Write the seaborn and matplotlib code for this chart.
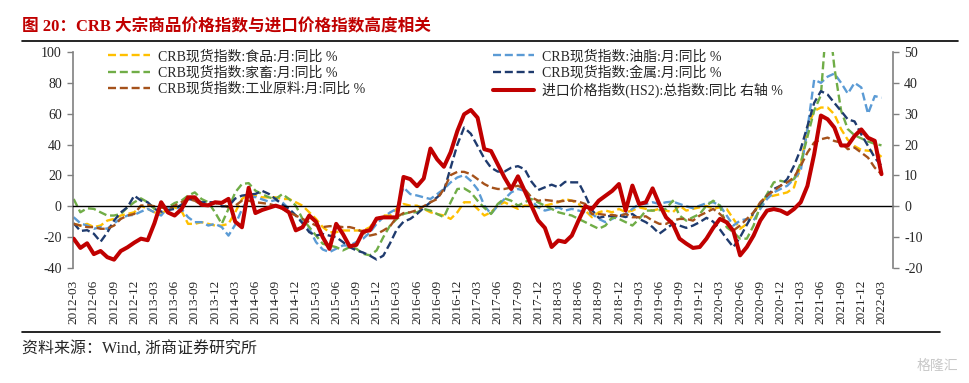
import numpy as np
import pandas as pd
import matplotlib
matplotlib.use("Agg")
import matplotlib.pyplot as plt
from matplotlib.lines import Line2D
import seaborn as sns

# monthly, 2012-03 .. 2022-03
months = pd.period_range("2012-03", "2022-03", freq="M").strftime("%Y-%m").tolist()

# CRB spot sub-indices, YoY % (left axis)
food = [-11.4, -12.5, -11.4, -13.5, -12.5, -9.3, -8.2, -6.0, -5.0, -3.9,
        0.4, -1.7, -3.9, -5.0, -1.7, -0.7, -2.8, -11.4, -11.4, -10.3,
        -11.4, -12.5, -12.5, -11.4, -3.9, 4.7, 8.0, 7.0, 5.8, 5.8,
        5.8, 4.7, 4.7, 2.6, 0.4, -3.9, -8.2, -13.5, -16.8, -16.8,
        -15.7, -15.7, -15.7, -15.7, -13.6, -8.2, -6.0, -6.0, -1.5, 1.5,
        0.4, 0.4, -1.7, -3.9, -5.0, -6.0, -8.2, -3.9, 2.6, 2.6,
        -1.7, -6.0, -3.9, 0.4, 2.6, 0.4, -1.7, 0.4, 0.4, -0.7,
        0.4, 1.5, 2.6, 4.7, 3.6, 1.5, -2.8, -7.1, -3.9, -2.8,
        -3.9, -1.7, -3.9, -2.8, -0.7, -1.7, -2.8, -1.7, -2.8, -3.9,
        0.4, -2.8, -1.7, -0.7, 0.2, -1.7, -0.7, -1.7, -8.2, -14.6,
        -11.4, -5.0, 2.6, 5.8, 6.9, 7.9, 9.0, 12.2, 26.2, 51.0,
        61.7, 64.0, 64.0, 59.6, 50.0, 43.0, 39.0, 36.5, 36.0, 35.5,
        32.0]
oils = [-7.1, -11.0, -12.5, -14.6, -13.5, -14.6, -11.0, -8.0, -6.0, -5.6,
        -3.5, -1.7, -3.9, -6.0, -0.7, -0.7, -1.7, -7.1, -10.3, -10.3,
        -12.5, -11.4, -13.5, -19.0, -12.0, -2.0, 5.8, 6.0, 4.5, 3.0,
        4.0, 2.6, -1.7, -6.0, -10.3, -14.6, -23.2, -28.0, -29.7, -27.5,
        -25.4, -25.4, -23.2, -21.0, -17.0, -11.4, -7.1, -4.0, -1.7, 12.2,
        7.9, 7.0, 5.8, 4.7, 7.9, 11.2, 15.5, 18.7, 20.2, 16.5,
        11.0, 0.4, -5.0, 0.4, 4.7, 9.0, 11.2, 10.0, 3.6, -0.7,
        -2.8, -1.7, -0.7, -2.8, -1.7, -2.8, -3.9, -5.0, -8.2, -10.3,
        -8.2, -6.0, -5.0, -1.7, 1.5, 1.5, 2.6, 1.5, 2.6, 3.0,
        1.5, 0.0, -1.3, 0.4, 2.0, 2.6, 0.5, -6.0, -12.5, -9.3,
        -8.2, -9.3, -1.7, 4.7, 9.0, 11.2, 13.3, 17.6, 23.0, 50.0,
        82.0, 80.0, 84.0, 86.0, 80.0, 73.0, 80.0, 77.0, 60.0, 71.4,
        70.3]
livestock = [4.7, -3.9, -1.3, -1.7, -3.9, -6.0, -6.0, -5.0, -0.7, 2.6,
             5.1, 2.6, -1.7, -0.7, -0.7, 2.1, 3.6, 6.9, 9.0, 4.7,
             2.6, -3.9, -11.4, -1.7, 9.0, 14.4, 15.0, 10.1, 7.9, 5.8,
             4.7, 7.9, 4.7, 0.4, -8.2, -13.5, -19.0, -24.3, -25.4, -26.5,
             -28.6, -26.5, -27.5, -30.8, -31.8, -28.6, -20.0, -12.5, -8.2, -5.0,
             -3.9, -3.9, -1.7, -2.8, -5.0, -7.1, 2.6, 11.2, 11.6, 9.0,
             3.6, -1.0, -5.0, 1.5, 5.1, 3.6, 0.4, 2.6, 4.7, 2.5,
             0.4, -1.7, -3.9, -5.0, -6.0, -8.2, -10.3, -12.5, -14.6, -12.5,
             -7.1, -8.2, -10.3, -12.5, -8.2, -2.8, -2.8, -2.5, -1.7, 3.6,
             -6.0, -9.3, -7.1, -5.0, 0.4, 3.6, 0.4, -13.6, -16.8, -21.0,
             -21.0, -12.5, 0.4, 7.9, 15.5, 16.5, 15.5, 17.6, 28.0, 45.0,
             62.0, 72.0, 130.0, 90.0, 62.0, 50.0, 46.0, 44.0, 42.0, 40.5,
             39.5]
metals = [-11.0, -16.0, -15.5, -17.8, -23.0, -17.0, -9.3, -4.0, -0.6, 6.9,
          3.7, 2.6, -1.7, -3.5, -2.5, -1.7, 1.0, 4.7, 4.0, 2.6,
          2.6, 2.6, 0.0, 0.0, 5.0, 6.9, 7.5, 8.0, 10.0, 8.0,
          4.7, 1.0, -1.7, -6.0, -11.0, -16.8, -19.0, -18.0, -19.0, -20.0,
          -23.2, -26.5, -28.6, -30.0, -32.0, -34.5, -32.0, -24.0, -15.0, -10.0,
          -8.2, -5.0, -1.0, 2.6, 5.8, 10.0, 25.0, 40.0, 51.0, 47.0,
          39.0, 31.0, 25.0, 22.5, 22.5, 25.0, 26.0, 24.0, 16.0, 10.5,
          12.3, 14.0, 12.3, 15.8, 15.5, 15.5, 7.0, -2.5, -7.5, -6.5,
          -6.3, -6.0, -7.0, -5.0, -8.2, -10.3, -13.5, -17.8, -14.6, -11.4,
          -12.5, -14.0, -12.5, -10.3, -7.5, -10.0, -15.0, -21.0, -26.5, -20.0,
          -12.0, -4.0, 1.5, 6.9, 11.2, 13.3, 17.6, 26.2, 37.0, 52.0,
          67.0, 74.6, 72.4, 67.0, 61.7, 56.3, 55.0, 46.6, 39.1, 31.5,
          26.2]
industrial = [-11.4, -12.5, -13.5, -13.5, -14.6, -14.6, -12.5, -8.2, -6.0, -5.0,
              0.4, 0.8, 0.0, -0.7, -1.7, 0.4, 2.6, 4.7, 3.6, 0.8,
              0.8, 2.1, 1.5, -0.7, 0.4, 3.6, 3.6, 2.6, 2.1, 1.5,
              0.4, -1.7, -3.9, -6.0, -8.2, -10.3, -12.5, -13.5, -12.9, -12.9,
              -13.5, -13.5, -14.6, -17.0, -19.0, -18.0, -15.7, -13.0, -7.0, -4.4,
              -3.9, -2.5, 0.0, 2.6, 4.7, 11.2, 20.2, 22.3, 22.3, 20.8,
              17.6, 14.4, 12.2, 11.2, 11.2, 12.2, 13.3, 11.2, 5.8, 3.6,
              4.1, 3.6, 3.0, 3.6, 3.6, 3.0, 1.5, -5.0, -5.0, -5.6,
              -5.6, -6.5, -5.0, -7.1, -7.1, -6.5, -9.3, -11.4, -11.4, -9.3,
              -8.2, -8.2, -9.3, -6.0, -3.9, -1.7, -5.0, -9.3, -15.7, -12.5,
              -8.2, -3.9, 2.6, 6.9, 10.1, 13.3, 15.5, 18.7, 26.2, 34.8,
              41.3, 43.4, 44.5, 42.3, 41.3, 37.0, 38.0, 34.8, 31.5, 25.0,
              20.8]

# import price index (HS2), YoY % (right axis)
import_price = [-10.5, -13.5, -12.0, -15.5, -14.5, -16.5, -17.3, -14.5, -13.3, -11.8,
                -10.5, -11.0, -5.5, 1.3, -2.0, -3.0, -1.0, 2.9, 2.9, 0.5,
                0.3, 1.3, 1.1, 2.4, -5.0, -6.8, 6.0, -2.2, -1.2, -0.5,
                0.2, -0.5, -2.0, -7.8, -6.8, -3.0, -5.0, -10.0, -13.8, -5.7,
                -9.0, -13.0, -12.5, -8.2, -7.8, -4.0, -3.6, -3.6, -3.6, 9.5,
                8.8, 6.5, 9.0, 18.7, 15.2, 12.8, 17.5, 24.4, 29.8, 31.2,
                28.7, 18.5, 17.9, 13.6, 9.3, 5.6, 9.7, 5.0, 0.2, -4.6,
                -7.0, -13.2, -11.1, -11.6, -9.5, -4.6, 0.0, -0.9, 1.8, 3.4,
                5.0, 7.2, -1.4, 6.7, 0.7, 1.3, 5.8, 0.7, -3.6, -5.7,
                -10.5, -12.1, -13.5, -13.2, -10.5, -7.0, -4.1, -5.2, -8.0, -15.9,
                -13.2, -9.5, -4.6, -1.4, -0.9, -1.4, -2.5, -0.9, 1.3, 6.6,
                16.9, 29.4, 28.2, 25.5, 19.7, 19.7, 22.8, 24.9, 22.2, 21.2,
                10.4]

names = ["CRB现货指数:食品:月:同比 %", "CRB现货指数:油脂:月:同比 %",
         "CRB现货指数:家畜:月:同比 %", "CRB现货指数:金属:月:同比 %",
         "CRB现货指数:工业原料:月:同比 %", "进口价格指数(HS2):总指数:同比 右轴 %"]
colors = ["#FFC000", "#5B9BD5", "#70AD47", "#1F3B6E", "#A5521B", "#C00000"]

sns.set_style("white")
plt.rcParams["font.family"] = ["Liberation Serif", "Noto Sans CJK SC"]
plt.rcParams["axes.unicode_minus"] = False

x = np.arange(len(months))

fig = plt.figure(figsize=(9.69, 3.83), dpi=100)
ax = fig.add_axes([0.0753, 0.3003, 0.8462, 0.5640])

left_data = [food, oils, livestock, metals, industrial]
for vals, name, c in zip(left_data, names[:5], colors[:5]):
    sns.lineplot(x=x, y=vals, ax=ax, color=c, lw=1.7,
                 linestyle=(0, (3.4, 1.6)), label=name, legend=False)

ax2 = ax.twinx()
sns.lineplot(x=x, y=import_price, ax=ax2, color=colors[5], lw=2.9,
             label=names[5], legend=False)

ax.set_xlim(-0.1, 121.7)
ax.set_ylim(-40, 100)
ax.set_yticks(range(-40, 101, 20))
ax.set_xticks(x[::3])
ax.set_xticklabels(months[::3])
ax.set_xlabel("")
ax.set_ylabel("")

ax.spines["top"].set_visible(False)
ax.spines["right"].set_visible(False)
ax.spines["left"].set_color("#808080")
ax.spines["left"].set_linewidth(1.2)
ax.spines["bottom"].set_position(("data", 0))
ax.spines["bottom"].set_color("black")
ax.spines["bottom"].set_linewidth(1.0)
ax.tick_params(axis="x", direction="out", length=3, width=0.9, color="black",
               pad=50, labelsize=9.5, labelrotation=90)
ax.tick_params(axis="y", direction="out", length=4, width=1.0, color="#808080",
               labelsize=10, pad=4)

ax2.set_ylim(-20, 50)
ax2.set_yticks(range(-20, 51, 10))
ax2.set_ylabel("")
for s in ["top", "bottom", "left"]:
    ax2.spines[s].set_visible(False)
ax2.spines["right"].set_color("#808080")
ax2.spines["right"].set_linewidth(1.2)
ax2.tick_params(axis="y", direction="out", length=4, width=1.0, color="#808080",
                labelsize=10, pad=4)

h1, l1 = ax.get_legend_handles_labels()
h2, l2 = ax2.get_legend_handles_labels()
hd = dict(zip(l1 + l2, h1 + h2))
order = [names[0], names[2], names[4], names[1], names[3], names[5]]
ax2.legend([hd[n] for n in order], order, ncol=2, loc="upper left",
           bbox_to_anchor=(0.043, 1.01), frameon=False, fontsize=10,
           handlelength=3.0, handletextpad=0.55, columnspacing=9.2,
           labelspacing=0.2, borderpad=0, borderaxespad=0)

fig.text(22 / 969, 1 - 27 / 383, "图 20：CRB 大宗商品价格指数与进口价格指数高度相关",
         color="#C00000", fontsize=12, fontweight="bold", ha="left", va="center")
fig.add_artist(Line2D([22 / 969, 958 / 969], [1 - 41 / 383] * 2, color="black", lw=1.2))
fig.add_artist(Line2D([22 / 969, 940 / 969], [1 - 332 / 383] * 2, color="black", lw=1.2))
fig.text(22 / 969, 1 - 350 / 383, "资料来源：Wind, 浙商证券研究所",
         fontsize=11.5, ha="left", va="center")
fig.text(958 / 969, 1 - 366 / 383, "格隆汇", color="#c8c8c8", fontsize=10,
         ha="right", va="center")

fig.savefig("out.png", dpi=100)
